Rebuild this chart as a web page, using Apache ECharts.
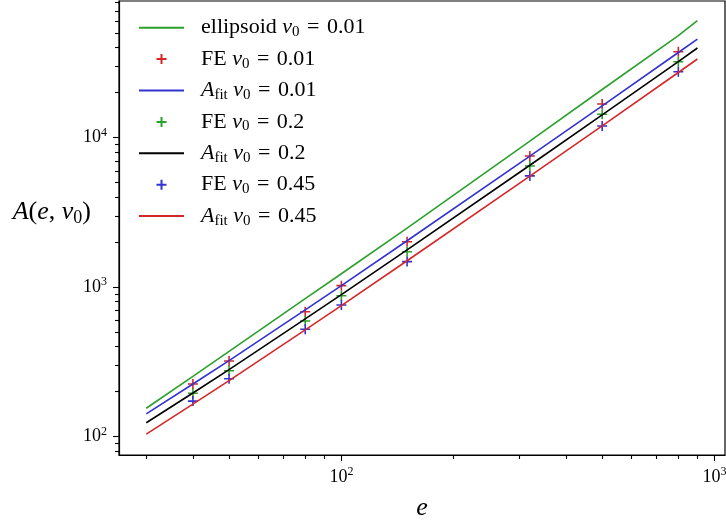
<!DOCTYPE html>
<html><head><meta charset="utf-8">
<script src="https://cdn.jsdelivr.net/npm/echarts@6/dist/echarts.min.js"></script>
<style>html,body{margin:0;padding:0;background:#fff}#c{width:726px;height:524px}</style>
</head><body><div id="c"></div>
<script>
// ---- data ----
const lineX = [30, 40, 50, 80, 100, 150, 320, 500, 800, 900];
const ellipsoid001 = [155, 253, 372, 838, 1230, 2480, 9480, 21000, 48200, 60700];
const fit001 = [142, 225, 323, 705, 1025, 2044, 7520, 16340, 37150, 45700];
const fit02 = [124, 196, 281, 613, 892, 1778, 6540, 14200, 32300, 39800];
const fit045 = [104, 165, 237, 518, 753, 1502, 5530, 12010, 27300, 33600];
const feX = [40, 50, 80, 100, 150, 320, 500, 800];
const fe001 = [225, 321, 685, 1024, 2014, 7550, 16800, 37600];
const fe02 = [195, 276, 594, 877, 1727, 6470, 14360, 32200];
const fe045 = [173, 244, 523, 760, 1483, 5550, 11970, 27600];
const xMajor = [100, 1000];
const xMinor = [30, 40, 50, 60, 70, 80, 90, 200, 300, 400, 500, 600, 700, 800, 900];
const yMajor = [100, 1000, 10000];
const yMinor = [80, 90, 200, 300, 400, 500, 600, 700, 800, 900,
  2000, 3000, 4000, 5000, 6000, 7000, 8000, 9000,
  20000, 30000, 40000, 50000, 60000, 70000, 80000];
const seriesNames = ['ellipsoid ν0 = 0.01', 'FE ν0 = 0.01', 'Afit ν0 = 0.01', 'FE ν0 = 0.2',
  'Afit ν0 = 0.2', 'FE ν0 = 0.45', 'Afit ν0 = 0.45'];
const lineNames = [seriesNames[0], seriesNames[2], seriesNames[4], seriesNames[6]];

const FONT = 'Liberation Serif';
const GREEN = '#2ca02c', RED = '#d62728', BLUE = '#3232d2', BLACK = '#000000';
const XMIN = 25.35, XMAX = 1067, YMIN = 75.4, YMAX = 82100;

function zip(xs, ys) { return xs.map((x, i) => [x, ys[i]]); }
const plus = 'path://M5,0 L5,10 M0,5 L10,5';

function lineSeries(name, ys, color) {
  return { name, type: 'line', data: zip(lineX, ys), showSymbol: false, symbol: 'none',
    lineStyle: { color, width: 1.6 }, itemStyle: { color }, silent: true };
}
function feSeries(name, ys, color) {
  return { name, type: 'scatter', data: zip(feX, ys), symbol: plus, symbolSize: 10,
    symbolKeepAspect: true,
    itemStyle: { color, borderColor: color, borderWidth: 1.6, opacity: 1 }, silent: true };
}
const tickRich = {
  b: { fontFamily: FONT, fontSize: 18, lineHeight: 22, color: '#000' },
  s: { fontFamily: FONT, fontSize: 12, lineHeight: 12, verticalAlign: 'top', color: '#000' }
};
function powLabel(v) { return '{b|10}{s|' + Math.round(Math.log10(v)) + '}'; }
function legendFmt(name) {
  return name.replace('Afit', '{it|A}{fit|fit}').replace('ν0', '{it|ν}{sub|0}').replace(' = ', ' {eq|=} ');
}

const chart = echarts.init(document.getElementById('c'), null, { renderer: 'canvas' });
chart.setOption({
  animation: false,
  backgroundColor: '#fff',
  grid: { left: 119, right: 1, top: 1, bottom: 69, show: true, borderColor: '#000', borderWidth: 1.2,
    containLabel: false, outerBoundsMode: 'none' },
  legend: {
    orient: 'vertical', left: 138, top: 15.7, padding: 0, itemGap: 7.4,
    itemWidth: 45, itemHeight: 10, selectedMode: false,
    data: seriesNames.map(n => lineNames.includes(n)
      ? { name: n, itemStyle: { opacity: 0 } }
      : { name: n }),
    formatter: legendFmt,
    textStyle: {
      fontFamily: FONT, fontSize: 22, lineHeight: 24, color: '#000', padding: [0, 0, 0, 12],
      rich: {
        it: { fontFamily: FONT, fontStyle: 'italic', fontSize: 22, lineHeight: 24, color: '#000' },
        eq: { fontFamily: FONT, fontSize: 22, lineHeight: 24, color: '#000', padding: [0, 2, 0, 2] },
        sub: { fontFamily: FONT, fontSize: 15, lineHeight: 15, verticalAlign: 'bottom', color: '#000' },
        fit: { fontFamily: FONT, fontSize: 15, lineHeight: 15, verticalAlign: 'bottom', color: '#000' }
      }
    }
  },
  xAxis: [
    { type: 'log', logBase: 10, min: XMIN, max: XMAX, position: 'bottom',
      axisLine: { show: true, lineStyle: { color: '#000', width: 1.2 } },
      axisTick: { show: true, customValues: xMajor, length: 6, lineStyle: { color: '#000', width: 1.1 } },
      axisLabel: { customValues: xMajor, margin: 11, formatter: powLabel, rich: tickRich },
      splitLine: { show: false }, minorTick: { show: false },
      name: 'e', nameLocation: 'middle', nameGap: 40, nameMoveOverlap: false,
      nameTextStyle: { fontFamily: FONT, fontStyle: 'italic', fontSize: 26, color: '#000' } },
    { type: 'log', logBase: 10, min: XMIN, max: XMAX, position: 'bottom',
      axisLine: { show: false },
      axisTick: { show: true, customValues: xMinor, length: 4, lineStyle: { color: '#000', width: 1.1 } },
      axisLabel: { show: false }, splitLine: { show: false } }
  ],
  yAxis: [
    { type: 'log', logBase: 10, min: YMIN, max: YMAX, position: 'left',
      axisLine: { show: true, lineStyle: { color: '#000', width: 1.2 } },
      axisTick: { show: true, customValues: yMajor, length: 6, lineStyle: { color: '#000', width: 1.1 } },
      axisLabel: { customValues: yMajor, margin: 12, formatter: powLabel, rich: tickRich },
      splitLine: { show: false }, minorTick: { show: false },
      name: '{it|A}{rm|(}{it|e}{rm|, }{it|ν}{sub|0}{rm|)}', nameLocation: 'middle', nameRotate: 0,
      nameGap: 28, nameMoveOverlap: false,
      nameTextStyle: { fontFamily: FONT, fontSize: 26, color: '#000', padding: [0, 0, 31, 0],
        rich: {
          it: { fontFamily: FONT, fontStyle: 'italic', fontSize: 26, lineHeight: 30, color: '#000' },
          rm: { fontFamily: FONT, fontSize: 26, lineHeight: 30, color: '#000' },
          sub: { fontFamily: FONT, fontSize: 18, lineHeight: 18, verticalAlign: 'bottom', color: '#000' }
        } } },
    { type: 'log', logBase: 10, min: YMIN, max: YMAX, position: 'left',
      axisLine: { show: false },
      axisTick: { show: true, customValues: yMinor, length: 4, lineStyle: { color: '#000', width: 1.1 } },
      axisLabel: { show: false }, splitLine: { show: false } }
  ],
  series: [
    lineSeries(seriesNames[0], ellipsoid001, GREEN),
    feSeries(seriesNames[1], fe001, RED),
    lineSeries(seriesNames[2], fit001, BLUE),
    feSeries(seriesNames[3], fe02, GREEN),
    lineSeries(seriesNames[4], fit02, BLACK),
    feSeries(seriesNames[5], fe045, BLUE),
    lineSeries(seriesNames[6], fit045, RED)
  ]
});
</script></body></html>
